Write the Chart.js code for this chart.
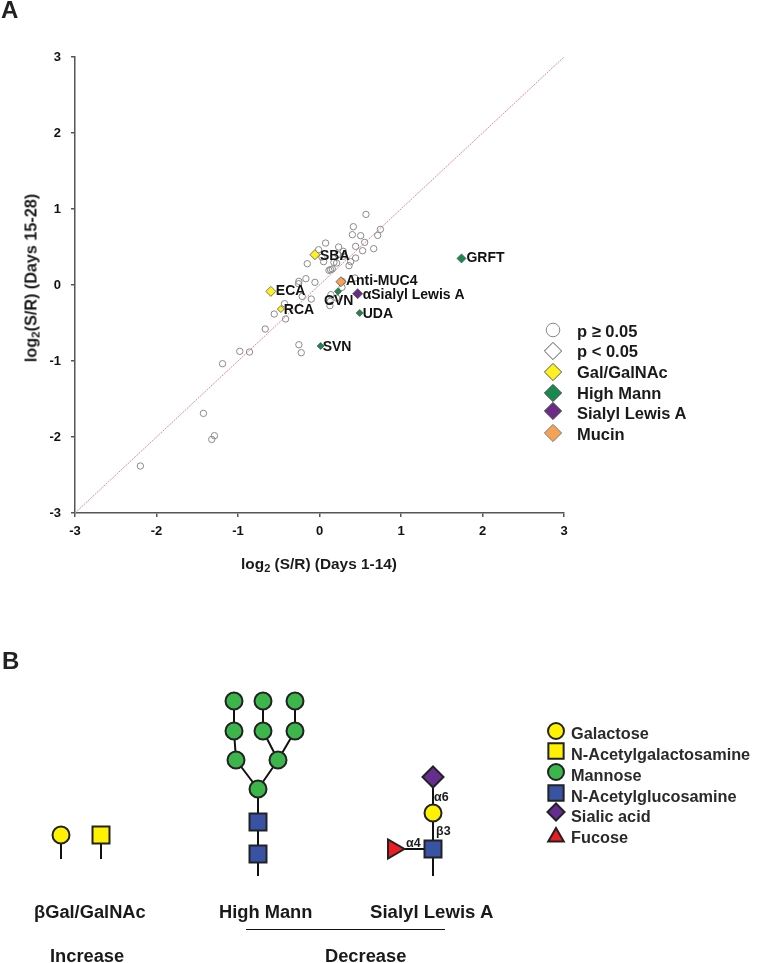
<!DOCTYPE html>
<html lang="en">
<head>
<meta charset="UTF-8">
<title>Lectin S/R scatter and glycan structures</title>
<script src="https://cdn.jsdelivr.net/npm/chart.js@4/dist/chart.umd.min.js"></script>
<style>
    html, body { margin: 0; padding: 0; background: #fff; }
    #page { position: relative; width: 760px; height: 963px; overflow: hidden; }
    canvas { position: absolute; left: 0; top: 0; }
    .t {
        position: absolute;
        font: bold 18.3px "Liberation Sans", Arial, sans-serif;
        color: #1a1a1a;
        white-space: nowrap;
        transform: translateY(-50%);
    }
    .panel { font-size: 24px; color: #222; }
    .lega { font-size: 16.5px; }
    .legb { font-size: 16.3px; color: #2a2a2a; }
    .link { font-size: 12.5px; }
    .axis sub { font-size: 0.72em; vertical-align: -3px; line-height: 0; }
    .ytitle { font-size: 16.2px; transform: translate(-50%, -50%) rotate(-90deg); }
    .xtitle { font-size: 15.4px; transform: translate(-50%, -50%); }
</style>
</head>
<body>
<div id="page">
    <canvas id="overlay" width="760" height="963"></canvas>
    <canvas id="scatter" width="760" height="600"></canvas>

    <div class="t panel" style="left:1px;top:10px">A</div>
    <div class="t panel" style="left:2px;top:661px">B</div>

    <div class="t axis xtitle" style="left:319px;top:564px">log<sub>2</sub> (S/R) (Days 1-14)</div>
    <div class="t axis ytitle" style="left:31px;top:278px">log<sub>2</sub>(S/R) (Days 15-28)</div>

    <div class="t lega" style="left:577px;top:331px">p ≥ 0.05</div>
    <div class="t lega" style="left:577px;top:351px">p &lt; 0.05</div>
    <div class="t lega" style="left:577px;top:372px">Gal/GalNAc</div>
    <div class="t lega" style="left:577px;top:393px">High Mann</div>
    <div class="t lega" style="left:577px;top:413px">Sialyl Lewis A</div>
    <div class="t lega" style="left:577px;top:434px">Mucin</div>

    <div class="t legb" style="left:571px;top:733px">Galactose</div>
    <div class="t legb" style="left:571px;top:754px">N-Acetylgalactosamine</div>
    <div class="t legb" style="left:571px;top:775px">Mannose</div>
    <div class="t legb" style="left:571px;top:796px">N-Acetylglucosamine</div>
    <div class="t legb" style="left:571px;top:816px">Sialic acid</div>
    <div class="t legb" style="left:571px;top:837px">Fucose</div>

    <div class="t link" style="left:434px;top:797px">α6</div>
    <div class="t link" style="left:436px;top:831px">β3</div>
    <div class="t link" style="left:406px;top:843px">α4</div>

    <div class="t" style="left:34px;top:912px">βGal/GalNAc</div>
    <div class="t" style="left:219px;top:912px">High Mann</div>
    <div class="t" style="left:370px;top:912px;font-size:18.6px">Sialyl Lewis A</div>
    <div class="t" style="left:50px;top:956px">Increase</div>
    <div class="t" style="left:325px;top:956px">Decrease</div>
</div>

<script>
    // panel A: log2(S/R) days 1-14 / days 15-28
    var otherX = [0.570, 0.415, 0.403, 0.505, 0.747, 0.714, 0.554, 0.443, 0.529, 0.665, 0.075, 0.235, 0.292,
        -0.011, 0.030, 0.050, -0.150, 0.177, 0.210, 0.362, 0.382, 0.443, 0.292, 0.226, 0.116, 0.136, 0.157,
        0.435, 0.280, -0.167, -0.253, -0.257, -0.056, -0.212, -0.101, 0.140, 0.276, 0.210, 0.128, 0.132,
        -0.429, -0.556, -0.416, -0.666, -0.253, -0.224, -0.978, -0.859, -1.190, -1.424, -1.289, -1.322, -2.198];
    var otherY = [0.929, 0.767, 0.662, 0.649, 0.732, 0.653, 0.561, 0.508, 0.451, 0.478, 0.552, 0.500, 0.443,
        0.464, 0.368, 0.307, 0.280, 0.298, 0.289, 0.254, 0.307, 0.355, 0.377, 0.399, 0.193, 0.201, 0.210,
        0.092, 0.048, 0.083, 0.048, 0.017, 0.035, -0.150, -0.185, -0.128, -0.031, -0.171, -0.272, -0.215,
        -0.246, -0.382, -0.447, -0.579, -0.786, -0.891, -0.873, -0.882, -1.036, -1.689, -1.983, -2.032, -2.382];

    var galNames = ['SBA', 'ECA', 'RCA'];
    var galX = [-0.056, -0.597, -0.474];
    var galY = [0.399, -0.084, -0.316];

    var mannNames = ['GRFT', 'CVN', 'UDA', 'SVN'];
    var mannX = [1.742, 0.226, 0.493, 0.014];
    var mannY = [0.350, -0.084, -0.368, -0.803];

    var sialylNames = ['αSialyl Lewis A'];
    var sialylX = [0.468];
    var sialylY = [-0.114];

    var mucinNames = ['Anti-MUC4'];
    var mucinX = [0.263];
    var mucinY = [0.043];

    var unityLine = [-3, 3];
    var tickValues = [-3, -2, -1, 0, 1, 2, 3];

    // legend keys of panel A
    var keyX = [553];
    var keyY = [330, 351, 372, 393, 411, 433];

    // panel B, positions on a page-sized grid
    var mannoseX = [234, 263, 295, 234, 263, 295, 236, 278, 258];
    var mannoseY = [701, 701, 701, 731, 731, 731, 760, 760, 789];
    var glcnacX = [258, 258, 433];
    var glcnacY = [822, 854, 849];
    var galactoseX = [61, 433];
    var galactoseY = [835, 813];
    var galnacX = [101];
    var galnacY = [835];
    var sialicX = [433];
    var sialicY = [777];
    var fucoseX = [393.5];
    var fucoseY = [849];

    // bonds and stems, null breaks the line
    var bondX = [234, 234, null, 263, 263, null, 295, 295, null, 234, 236, null, 263, 278, null, 295, 278, null,
        236, 258, null, 278, 258, null, 258, 258, null, 433, 433, null, 393.5, 433, null, 61, 61, null, 101, 101];
    var bondY = [701, 731, null, 701, 731, null, 701, 731, null, 731, 760, null, 731, 760, null, 731, 760, null,
        760, 789, null, 760, 789, null, 789, 876, null, 777, 876, null, 849, 849, null, 835, 859, null, 835, 859];
    var ruleX = [246, 445];
    var ruleY = [929.5, 929.5];

    // legend keys of panel B
    var sugarKeyX = 556;
    var sugarKeyY = [731, 751, 772, 793, 812, 837];

    var OUTLINE = '#222';
    var YELLOW = '#fff200';
    var GREEN = '#3cb54a';
    var BLUE = '#3953a4';
    var PURPLE = '#652d90';
    var RED = '#ed1c24';
    var LECTIN_YELLOW = '#fff01f';
    var LECTIN_GREEN = '#178a4c';
    var LECTIN_PURPLE = '#6a2c85';
    var LECTIN_ORANGE = '#f7a155';

    function pairs(xs, ys) {
        return ys.map(function (y, i) { return { x: xs.length === 1 ? xs[0] : xs[i], y: y }; });
    }

    // label offset from its point, in pixels
    var labelShift = {
        'SBA': [5, 1], 'ECA': [5, 0], 'RCA': [3, 1], 'Anti-MUC4': [5, -1], 'CVN': [-14, 10],
        'αSialyl Lewis A': [5, 1], 'UDA': [3, 1], 'SVN': [2, 1], 'GRFT': [5, 0]
    };

    var pointLabels = {
        id: 'pointLabels',
        afterDatasetsDraw: function (chart) {
            var ctx = chart.ctx;
            ctx.save();
            ctx.font = 'bold 14px "Liberation Sans", Arial, sans-serif';
            ctx.fillStyle = '#111';
            ctx.textBaseline = 'middle';
            chart.data.datasets.forEach(function (ds, i) {
                if (!ds.names) return;
                chart.getDatasetMeta(i).data.forEach(function (el, j) {
                    var name = ds.names[j];
                    ctx.fillText(name, el.x + labelShift[name][0], el.y + labelShift[name][1]);
                });
            });
            ctx.restore();
        }
    };

    function lectins(label, xs, ys, names, color, radii) {
        return {
            label: label, names: names, data: pairs(xs, ys),
            pointStyle: 'rectRot', pointRadius: radii,
            backgroundColor: color, borderColor: '#555', pointBorderWidth: 0.8, showLine: false
        };
    }

    new Chart(document.getElementById('scatter'), {
        type: 'scatter',
        data: {
            datasets: [
                lectins('Gal/GalNAc', galX, galY, galNames, LECTIN_YELLOW, [5, 5, 3.5]),
                lectins('High Mann', mannX, mannY, mannNames, LECTIN_GREEN, [4.5, 3.5, 3.5, 3.5]),
                lectins('Sialyl Lewis A', sialylX, sialylY, sialylNames, LECTIN_PURPLE, [5]),
                lectins('Mucin', mucinX, mucinY, mucinNames, LECTIN_ORANGE, [5]),
                {
                    label: 'p ≥ 0.05', data: pairs(otherX, otherY),
                    pointStyle: 'circle', pointRadius: 3.2,
                    backgroundColor: 'rgba(255,255,255,0)', borderColor: '#8a8a8a', pointBorderWidth: 1
                },
                {
                    label: 'unity', data: pairs(unityLine, unityLine), type: 'line',
                    borderColor: '#e88a90', borderWidth: 1, borderDash: [2, 1], pointRadius: 0
                }
            ]
        },
        options: {
            responsive: false,
            animation: false,
            events: [],
            layout: { autoPadding: false, padding: { left: 24, top: 57, right: 196, bottom: 27 } },
            plugins: { legend: { display: false }, tooltip: { enabled: false } },
            scales: {
                x: {
                    type: 'linear', min: -3, max: 3,
                    afterBuildTicks: function (s) { s.ticks = tickValues.map(function (v) { return { value: v }; }); },
                    afterFit: function (s) { s.height = 60; },
                    border: { color: '#555', width: 1.5 },
                    grid: { drawOnChartArea: false, color: '#555', tickLength: 4, lineWidth: 1.5 },
                    ticks: { color: '#111', padding: 7, maxRotation: 0, font: { family: '"Liberation Sans", Arial', size: 13, weight: 'bold' } }
                },
                y: {
                    type: 'linear', min: -3, max: 3,
                    afterBuildTicks: function (s) { s.ticks = tickValues.map(function (v) { return { value: v }; }); },
                    afterFit: function (s) { s.width = 51; },
                    border: { color: '#555', width: 1.5 },
                    grid: { drawOnChartArea: false, color: '#555', tickLength: 4, lineWidth: 1.5 },
                    ticks: { color: '#111', padding: 10, font: { family: '"Liberation Sans", Arial', size: 13, weight: 'bold' } }
                }
            }
        },
        plugins: [pointLabels]
    });

    function node(xs, ys, style, radius, color, extra) {
        var ds = {
            data: pairs(xs, ys), pointStyle: style, pointRadius: radius,
            backgroundColor: color, borderColor: OUTLINE, pointBorderWidth: 2, showLine: false
        };
        return Object.assign(ds, extra || {});
    }

    function key(index, style, radius, color, extra) {
        return node([sugarKeyX], [sugarKeyY[index]], style, radius, color, extra);
    }

    function lectinKey(index, style, radius, color, stroke) {
        return {
            data: pairs(keyX, [keyY[index]]), pointStyle: style, pointRadius: radius,
            backgroundColor: color, borderColor: stroke, pointBorderWidth: 1, showLine: false
        };
    }

    new Chart(document.getElementById('overlay'), {
        type: 'scatter',
        data: {
            datasets: [
                lectinKey(0, 'circle', 6.8, '#fff', '#888'),
                lectinKey(1, 'rectRot', 8.6, '#fff', '#555'),
                lectinKey(2, 'rectRot', 8.6, LECTIN_YELLOW, '#555'),
                lectinKey(3, 'rectRot', 8.6, LECTIN_GREEN, '#444'),
                lectinKey(4, 'rectRot', 8.6, LECTIN_PURPLE, '#444'),
                lectinKey(5, 'rectRot', 8.6, LECTIN_ORANGE, '#777'),

                key(0, 'circle', 8, YELLOW),
                key(1, 'rect', 10.8, YELLOW),
                key(2, 'circle', 8, GREEN),
                key(3, 'rect', 10.8, BLUE),
                key(4, 'rectRot', 8.5, PURPLE),
                key(5, 'triangle', 9, RED),

                node(mannoseX, mannoseY, 'circle', 8.5, GREEN),
                node(glcnacX, glcnacY, 'rect', 12, BLUE),
                node(galactoseX, galactoseY, 'circle', 8.5, YELLOW),
                node(galnacX, galnacY, 'rect', 12, YELLOW),
                node(sialicX, sialicY, 'rectRot', 10.5, PURPLE),
                node(fucoseX, fucoseY, 'triangle', 11, RED, { pointRotation: 90 }),
                {
                    data: pairs(bondX, bondY), showLine: true, spanGaps: false, pointRadius: 0,
                    borderColor: '#111', borderWidth: 2
                },
                {
                    data: pairs(ruleX, ruleY), showLine: true, pointRadius: 0,
                    borderColor: '#111', borderWidth: 1
                }
            ]
        },
        options: {
            responsive: false,
            animation: false,
            events: [],
            layout: { autoPadding: false },
            plugins: { legend: { display: false }, tooltip: { enabled: false } },
            scales: {
                x: { type: 'linear', min: 0, max: 760, display: false },
                y: { type: 'linear', min: 0, max: 963, reverse: true, display: false }
            }
        }
    });
</script>
</body>
</html>
